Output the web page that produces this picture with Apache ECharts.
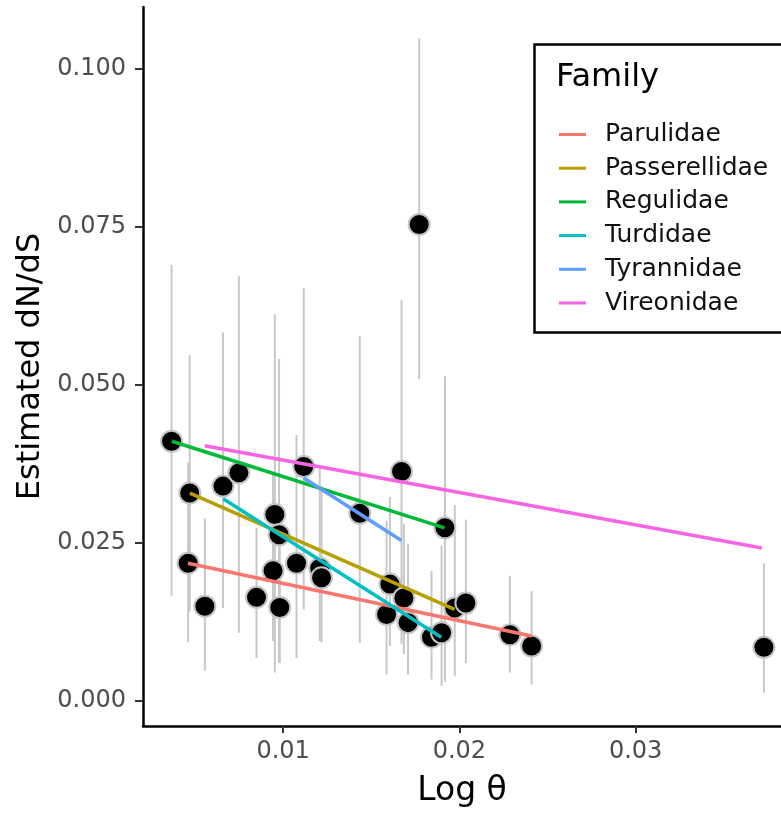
<!DOCTYPE html>
<html><head><meta charset="utf-8">
<script src="https://cdn.jsdelivr.net/npm/echarts@6/dist/echarts.min.js"></script>
<style>html,body{margin:0;padding:0;background:#fff}#c{width:781px;height:813px}</style>
</head><body><div id="c"></div>
<script>
// Point estimates (Log theta vs estimated dN/dS) with interval bounds
const logTheta = [0.00367,0.00470,0.00461,0.00556,0.00659,0.00749,0.00953,0.00977,0.00943,0.00849,
                  0.00981,0.01076,0.01117,0.01208,0.01218,0.01435,0.01672,0.01918,0.01772,0.01606,
                  0.01685,0.01587,0.01709,0.01842,0.01899,0.01974,0.02037,0.02287,0.02410,0.03728];
const dnds     = [0.0411,0.0329,0.0218,0.0150,0.0340,0.0361,0.0295,0.0263,0.0206,0.0164,
                  0.0148,0.0218,0.0371,0.0210,0.0195,0.0297,0.0363,0.0274,0.0754,0.0185,
                  0.0163,0.0137,0.0124,0.0101,0.0108,0.0147,0.0155,0.0105,0.0087,0.0085];
const ciLow    = [0.0166,0.0142,0.0093,0.0048,0.0147,0.0108,0.0045,0.0061,0.0095,0.0068,
                  0.0060,0.0068,0.0145,0.0095,0.0093,0.0092,0.0090,0.0030,0.0509,0.0087,
                  0.0074,0.0042,0.0042,0.0034,0.0024,0.0040,0.0060,0.0045,0.0026,0.0013];
const ciHigh   = [0.0690,0.0547,0.0377,0.0289,0.0583,0.0672,0.0612,0.0541,0.0360,0.0274,
                  0.0270,0.0421,0.0653,0.0368,0.0340,0.0577,0.0634,0.0514,0.1048,0.0323,
                  0.0280,0.0285,0.0249,0.0206,0.0246,0.0310,0.0287,0.0198,0.0174,0.0218];

// Per-family fitted lines (start and end)
const famNames = ['Parulidae','Passerellidae','Regulidae','Turdidae','Tyrannidae','Vireonidae'];
const lineX0 = [0.00460,0.00471,0.00369,0.00660,0.01117,0.00556];
const lineY0 = [0.0218,0.0329,0.0411,0.0320,0.0353,0.0404];
const lineX1 = [0.02410,0.01973,0.01916,0.01897,0.01671,0.03716];
const lineY1 = [0.0103,0.0145,0.0274,0.0101,0.0254,0.0242];

// Tick labels
const xTicks = [0.01,0.02,0.03];
const yTicks = [0,0.025,0.05,0.075,0.1];

const famColors = ['#F8766D','#B79F00','#00BA38','#00BFC4','#619CFF','#F564E3'];
const FONT = 'DejaVu Sans';

const points = logTheta.map((x,i)=>[x, dnds[i], ciLow[i], ciHigh[i]]);
const chart = echarts.init(document.getElementById('c'), null, {renderer:'canvas'});

const option = {
  animation:false,
  backgroundColor:'#fff',
  grid:{left:143, right:0, top:7, bottom:85},
  xAxis:{type:'value', min:0.00205, max:0.03825, splitLine:{show:false},
    axisLine:{onZero:false, lineStyle:{color:'#000', width:2.5}},
    axisTick:{customValues:xTicks, length:7, lineStyle:{color:'#333', width:2}},
    axisLabel:{customValues:xTicks, formatter:v=>v.toFixed(2), color:'#4d4d4d', fontSize:24, fontFamily:FONT, margin:14},
    name:'Log θ', nameLocation:'middle', nameGap:49,
    nameTextStyle:{fontSize:33, color:'#000', fontFamily:FONT}},
  yAxis:{type:'value', min:-0.00395, max:0.1098, splitLine:{show:false},
    axisLine:{onZero:false, lineStyle:{color:'#000', width:2.5}},
    axisTick:{customValues:yTicks, length:8, lineStyle:{color:'#333', width:2}},
    axisLabel:{customValues:yTicks, formatter:v=>v.toFixed(3), color:'#4d4d4d', fontSize:24, fontFamily:FONT, margin:17},
    name:'Estimated dN/dS', nameLocation:'middle', nameGap:95,
    nameTextStyle:{fontSize:32, color:'#000', fontFamily:FONT}},
  title:{text:'Family', left:551, top:57, textStyle:{fontSize:32, fontWeight:'normal', fontFamily:FONT, color:'#000'}},
  legend:{data:famNames, orient:'vertical', left:554, top:117, itemWidth:27, itemHeight:3, icon:'rect',
    itemGap:8.7, textStyle:{fontSize:25, fontFamily:FONT, color:'#111', lineHeight:24, padding:[0,0,0,14]}},
  graphic:[{type:'rect', left:532, top:42, shape:{width:260, height:288},
    style:{fill:'none', stroke:'#000', lineWidth:2.5}, z:100}],
  series:[
    {type:'custom', silent:true, z:1, data:points, encode:{x:0, y:[2,3]},
      renderItem:(params, api)=>{
        const x = api.value(0);
        const p1 = api.coord([x, api.value(2)]);
        const p2 = api.coord([x, api.value(3)]);
        return {type:'line', shape:{x1:p1[0], y1:p1[1], x2:p2[0], y2:p2[1]},
                style:{stroke:'#c8c8c8', lineWidth:2}};
      }},
    {type:'scatter', z:2, data:points.map(p=>[p[0], p[1]]), symbolSize:21,
      itemStyle:{color:'#000', opacity:1, borderColor:'#c4c4c4', borderWidth:2}},
    ...famNames.map((n,i)=>({type:'line', name:n, z:3, data:[[lineX0[i],lineY0[i]],[lineX1[i],lineY1[i]]],
      symbol:'none', showSymbol:false, lineStyle:{color:famColors[i], width:3.5}, itemStyle:{color:famColors[i]}}))
  ]
};
chart.setOption(option);
</script></body></html>
